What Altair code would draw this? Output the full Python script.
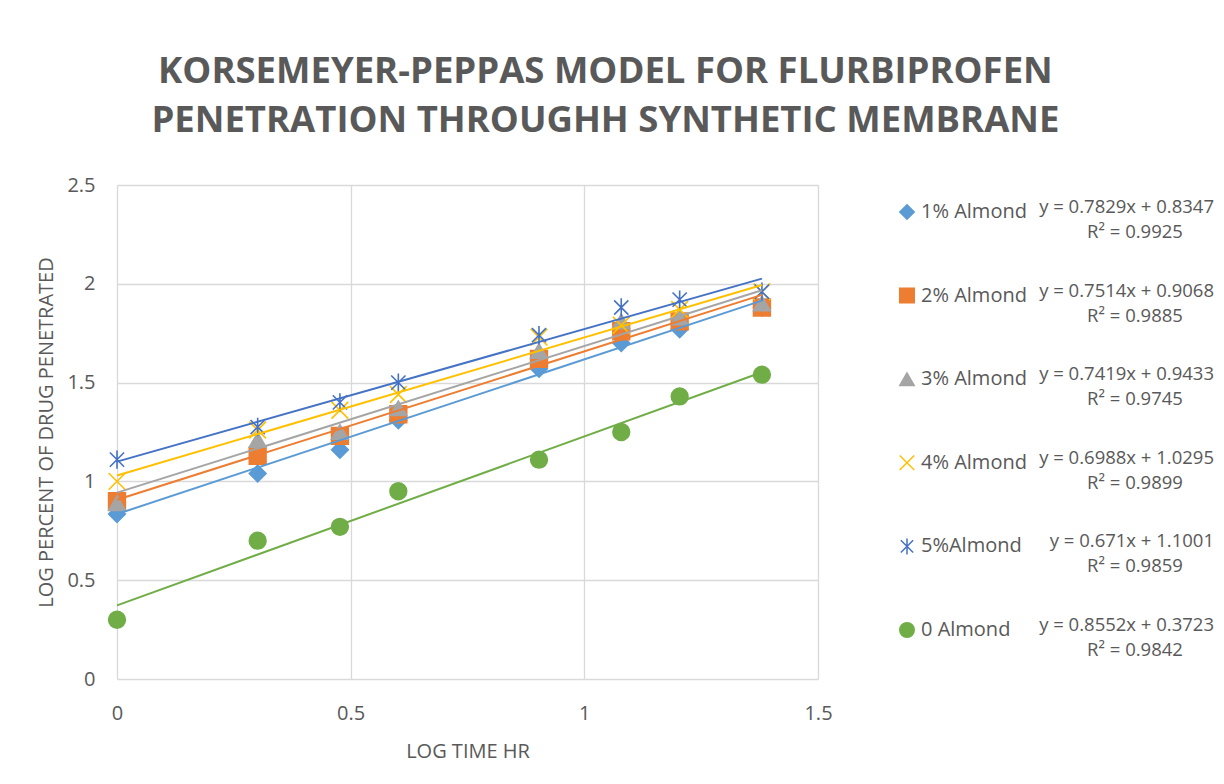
import altair as alt
import pandas as pd

# ---------------- data ----------------
series_names = ["1% Almond", "2% Almond", "3% Almond", "4% Almond", "5%Almond", "0 Almond"]
colors = ["#5B9BD5", "#ED7D31", "#A5A5A5", "#FFC000", "#4472C4", "#70AD47"]

log_time = [0.0, 0.301, 0.477, 0.602, 0.903, 1.079, 1.204, 1.380]

almond_1 = [0.835, 1.04, 1.16, 1.31, 1.57, 1.70, 1.77, 1.88]
almond_2 = [0.90, 1.13, 1.23, 1.34, 1.62, 1.76, 1.81, 1.88]
almond_3 = [0.89, 1.21, 1.25, 1.37, 1.66, 1.81, 1.83, 1.90]
almond_4 = [1.00, 1.26, 1.36, 1.44, 1.73, 1.79, 1.87, 1.96]
almond_5 = [1.11, 1.275, 1.40, 1.50, 1.74, 1.88, 1.92, 1.96]
almond_0 = [0.30, 0.70, 0.77, 0.95, 1.11, 1.25, 1.43, 1.54]

slopes = [0.7829, 0.7514, 0.7419, 0.6988, 0.671, 0.8552]
intercepts = [0.8347, 0.9068, 0.9433, 1.0295, 1.1001, 0.3723]
r_squared = [0.9925, 0.9885, 0.9745, 0.9899, 0.9859, 0.9842]

title_lines = ["KORSEMEYER-PEPPAS MODEL FOR FLURBIPROFEN",
               "PENETRATION THROUGHH SYNTHETIC MEMBRANE"]
x_title = "LOG TIME HR"
y_title = "LOG PERCENT OF DRUG PENETRATED"
x_ticks = [0, 0.5, 1, 1.5]
y_ticks = [0, 0.5, 1, 1.5, 2, 2.5]

# ---------------- styling ----------------
X_PATH = "M-1,-1L1,1M-1,1L1,-1"
STAR_PATH = "M-0.85,-0.85L0.85,0.85M-0.85,0.85L0.85,-0.85M0,-1.1L0,1.1"
shapes = ["diamond", "square", "triangle-up", X_PATH, STAR_PATH, "circle"]
GREY = "#595959"
FONT = "Open Sans"

# ---------------- tables ----------------
all_series = [almond_1, almond_2, almond_3, almond_4, almond_5, almond_0]
rows = []
for name, vals in zip(series_names, all_series):
    for x, y in zip(log_time, vals):
        rows.append({"series": name, "x": x, "y": y})
points_df = pd.DataFrame(rows)

trend_rows = []
for name, a, b in zip(series_names, slopes, intercepts):
    for x in (min(log_time), max(log_time)):
        trend_rows.append({"series": name, "x": x, "y": a * x + b})
trend_df = pd.DataFrame(trend_rows)

legend_df = pd.DataFrame({
    "series": series_names,
    "idx": list(range(len(series_names))),
    "eq": [f"y = {a}x + {b}" for a, b in zip(slopes, intercepts)],
    "r2": [f"R\u00b2 = {r}" for r in r_squared],
})

fill_scale = alt.Scale(domain=series_names, range=colors)
shape_scale = alt.Scale(domain=series_names, range=shapes)

W, H = 701, 494

x_enc = alt.X("x:Q", title=x_title,
              scale=alt.Scale(domain=[0, 1.5], nice=False, zero=False),
              axis=alt.Axis(values=x_ticks, format="~g", labelPadding=24,
                            titlePadding=18, labelFlush=False))
y_enc = alt.Y("y:Q", title=y_title,
              scale=alt.Scale(domain=[0, 2.5], nice=False, zero=False),
              axis=alt.Axis(values=y_ticks, format="~g", labelPadding=22,
                            titlePadding=10, labelFlush=False))

pts = alt.Chart(points_df).mark_point(filled=True, size=280, strokeWidth=1.6, opacity=1).encode(
    x=x_enc, y=y_enc,
    fill=alt.Fill("series:N", scale=fill_scale, legend=None),
    stroke=alt.Stroke("series:N", scale=fill_scale, legend=None),
    shape=alt.Shape("series:N", scale=shape_scale, legend=None),
)

lines = alt.Chart(trend_df).mark_line(strokeWidth=2).encode(
    x=x_enc, y=y_enc,
    stroke=alt.Stroke("series:N", scale=fill_scale, legend=None),
    detail="series:N",
)

main = alt.layer(pts, lines).properties(width=W, height=H)

# ---------------- custom legend panel ----------------
leg_base = alt.Chart(legend_df).encode(
    y=alt.Y("idx:Q", axis=None,
            scale=alt.Scale(domain=[-0.323, 5.586], reverse=True, nice=False, zero=False))
)
leg_sym = leg_base.mark_point(filled=True, size=210, strokeWidth=1.5, opacity=1).encode(
    x=alt.value(69),
    fill=alt.Fill("series:N", scale=fill_scale, legend=None),
    stroke=alt.Stroke("series:N", scale=fill_scale, legend=None),
    shape=alt.Shape("series:N", scale=shape_scale, legend=None),
)
leg_lab = leg_base.mark_text(align="left", baseline="middle", fontSize=20, font=FONT,
                             color=GREY).encode(x=alt.value(83), text="series:N")
leg_eq = leg_base.mark_text(align="right", baseline="middle", dy=-5, fontSize=18.5, font=FONT,
                            color=GREY).encode(x=alt.value(376), text="eq:N")
leg_r2 = leg_base.mark_text(align="center", baseline="middle", dy=20, fontSize=18.5, font=FONT,
                            color=GREY).encode(x=alt.value(297), text="r2:N")
legend_panel = alt.layer(leg_sym, leg_lab, leg_eq, leg_r2).properties(width=376, height=H)

chart = alt.hconcat(main, legend_panel, spacing=20, bounds="flush").resolve_scale(
    x="independent", y="independent"
).properties(
    title=alt.TitleParams(text=title_lines, fontSize=36.5, font=FONT, fontWeight="bold",
                          color=GREY, anchor="middle", lineHeight=49, offset=36, dx=-20),
    padding={"left": 28, "top": 45, "right": 0, "bottom": 5},
).configure_view(stroke=None).configure_axis(
    grid=True, gridColor="#d9d9d9", gridWidth=1.3, domain=False, ticks=False,
    labelFont=FONT, labelFontSize=20, labelColor=GREY,
    titleFont=FONT, titleFontSize=20, titleFontWeight="normal", titleColor=GREY,
)

chart.save("out.html", embed_options={"renderer": "svg", "actions": False})
